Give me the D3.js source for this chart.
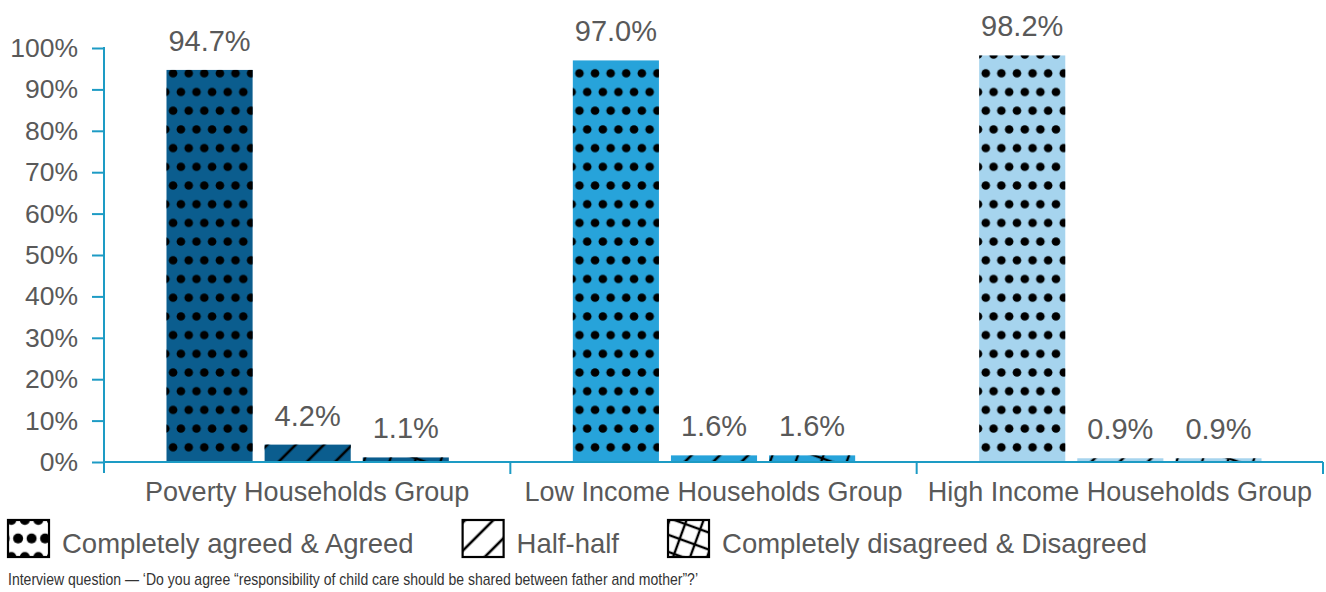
<!DOCTYPE html>
<html>
<head>
<meta charset="utf-8">
<script src="https://cdn.jsdelivr.net/npm/d3@7"></script>
<style>
  body { margin: 0; background: #fff; }
  svg { display: block; font-family: "Liberation Sans", Arial, Helvetica, sans-serif; }
</style>
</head>
<body>
<svg id="chart" width="1326" height="592"></svg>
<script>
// ---- data ----
const categories = ["Poverty Households Group", "Low Income Households Group", "High Income Households Group"];
const seriesNames = ["Completely agreed & Agreed", "Half-half", "Completely disagreed & Disagreed"];
const agreed    = [94.7, 97.0, 98.2];
const halfHalf  = [4.2, 1.6, 0.9];
const disagreed = [1.1, 1.6, 0.9];
const yTicks = [0, 10, 20, 30, 40, 50, 60, 70, 80, 90, 100];
const footnote = "Interview question \u2014 \u2018Do you agree \u201Cresponsibility of child care should be shared between father and mother\u201D?\u2019";

// ---- styles ----
const groupColors = ["#0b5d8e", "#27a3da", "#a6d4ee"];
const axisColor = "#1d9bc4";
const textColor = "#595959";
const patternIds = ["dots", "hatch", "cross"];

const svg = d3.select("#chart");
const plot = { left: 104, right: 1323, top: 48, bottom: 462 };

const y = d3.scaleLinear().domain([0, 100]).range([plot.bottom, plot.top]);
const x0 = d3.scaleBand().domain(categories).range([plot.left, plot.right]);
const x1 = d3.scaleBand().domain(seriesNames)
  .range([62.5, x0.bandwidth() - 61.5]).paddingInner(0.1224);

const rows = categories.map((c, i) => ({
  category: c,
  color: groupColors[i],
  values: [agreed[i], halfHalf[i], disagreed[i]].map((v, j) => ({ series: seriesNames[j], value: v, pattern: patternIds[j] }))
}));

// ---- patterns ----
const defs = svg.append("defs");

function dotPattern(id, w, h, r, ox, oy) {
  const p = defs.append("pattern").attr("id", id).attr("patternUnits", "userSpaceOnUse")
    .attr("x", ox).attr("y", oy).attr("width", w).attr("height", h);
  [[w / 2, h / 4], [0, 3 * h / 4], [w, 3 * h / 4]].forEach(([cx, cy]) =>
    p.append("circle").attr("cx", cx).attr("cy", cy).attr("r", r).attr("fill", "#000"));
}
function hatchPattern(id, s, sw, ox, oy) {
  const p = defs.append("pattern").attr("id", id).attr("patternUnits", "userSpaceOnUse")
    .attr("x", ox).attr("y", oy).attr("width", s).attr("height", s)
    .attr("patternTransform", "rotate(45)");
  p.append("line").attr("x1", s / 2).attr("x2", s / 2).attr("y1", 0).attr("y2", s)
    .attr("stroke", "#000").attr("stroke-width", sw);
}
function crossPattern(id, s, sw, ox, oy) {
  const p = defs.append("pattern").attr("id", id).attr("patternUnits", "userSpaceOnUse")
    .attr("x", ox).attr("y", oy).attr("width", s).attr("height", s)
    .attr("patternTransform", "rotate(20)");
  p.append("line").attr("x1", s / 2).attr("x2", s / 2).attr("y1", 0).attr("y2", s)
    .attr("stroke", "#000").attr("stroke-width", sw);
  p.append("line").attr("y1", s / 2).attr("y2", s / 2).attr("x1", 0).attr("x2", s)
    .attr("stroke", "#000").attr("stroke-width", sw);
}

dotPattern("dots", 15.6, 37.4, 4.3, 170.5, 63.95);
hatchPattern("hatch", 20, 2.6, 0, 0);
crossPattern("cross", 24, 2.4, 6, 0);

// ---- bars ----
const groups = svg.append("g").selectAll("g").data(rows).join("g")
  .attr("transform", d => `translate(${x0(d.category)},0)`);

groups.each(function (row) {
  const g = d3.select(this);
  const bars = g.selectAll("g.bar").data(row.values).join("g").attr("class", "bar");
  bars.append("rect")
    .attr("x", d => x1(d.series)).attr("width", x1.bandwidth())
    .attr("y", d => y(d.value)).attr("height", d => y(0) - y(d.value))
    .attr("fill", row.color);
  bars.append("rect")
    .attr("x", d => x1(d.series)).attr("width", x1.bandwidth())
    .attr("y", d => y(d.value)).attr("height", d => y(0) - y(d.value))
    .attr("fill", d => `url(#${d.pattern})`);
  bars.append("text")
    .attr("x", d => x1(d.series) + x1.bandwidth() / 2)
    .attr("y", d => y(d.value) - 19)
    .attr("text-anchor", "middle")
    .attr("font-size", 29)
    .attr("fill", textColor)
    .text(d => d.value.toFixed(1) + "%");
});

// ---- y axis ----
const yAxis = svg.append("g").attr("transform", `translate(${plot.left},0)`)
  .call(d3.axisLeft(y).tickValues(yTicks).tickSize(12).tickPadding(14).tickFormat(d => d + "%"));
yAxis.select(".domain").remove();
yAxis.selectAll(".tick line").attr("stroke", axisColor).attr("stroke-width", 2);
yAxis.selectAll(".tick text").attr("font-size", 26.5).attr("fill", textColor)
  .style("font-family", "'Liberation Sans', Arial, sans-serif");
yAxis.append("line").attr("x1", 0).attr("x2", 0)
  .attr("y1", y(100) - 1).attr("y2", plot.bottom + 11)
  .attr("stroke", axisColor).attr("stroke-width", 2);

// ---- x axis ----
const xAxis = svg.append("g").attr("transform", `translate(0,${plot.bottom})`)
  .call(d3.axisBottom(x0).tickSize(0).tickPadding(20));
xAxis.select(".domain").remove();
xAxis.selectAll(".tick text").attr("font-size", 27).attr("fill", textColor)
  .style("font-family", "'Liberation Sans', Arial, sans-serif");
xAxis.append("line").attr("x1", plot.left).attr("x2", plot.right).attr("y1", 0).attr("y2", 0)
  .attr("stroke", axisColor).attr("stroke-width", 2);
const boundaries = categories.map(c => x0(c) + x0.bandwidth());
xAxis.selectAll("line.sep").data(boundaries).join("line").attr("class", "sep")
  .attr("x1", d => d).attr("x2", d => d).attr("y1", 0).attr("y2", 12)
  .attr("stroke", axisColor).attr("stroke-width", 2);

// ---- legend ----
const legend = svg.append("g");
const iconW = 41, iconH = 37, iconY = 520, textGap = 13, itemGap = 49;
let lx = 8;
seriesNames.forEach((name, i) => {
  const id = "legend-" + patternIds[i];
  if (i === 0) dotPattern(id, 13.5, 37, 5, lx - 3.4, iconY - 9.25);
  if (i === 1) hatchPattern(id, 20, 2.6, lx + 4, iconY);
  if (i === 2) crossPattern(id, 16, 2.4, lx + 3, iconY + 2);
  legend.append("rect").attr("x", lx).attr("y", iconY).attr("width", iconW).attr("height", iconH)
    .attr("fill", "#fff");
  legend.append("rect").attr("x", lx).attr("y", iconY).attr("width", iconW).attr("height", iconH)
    .attr("fill", `url(#${id})`).attr("stroke", "#000").attr("stroke-width", 2.2);
  const t = legend.append("text").attr("x", lx + iconW + textGap).attr("y", 553)
    .attr("font-size", 27.5).attr("fill", textColor).text(name);
  lx = lx + iconW + textGap + t.node().getComputedTextLength() + itemGap;
});

// ---- footnote ----
svg.append("text").attr("x", 8).attr("y", 585)
  .attr("font-size", 17).attr("fill", "#333")
  .attr("textLength", 690).attr("lengthAdjust", "spacingAndGlyphs")
  .text(footnote);
</script>
</body>
</html>
